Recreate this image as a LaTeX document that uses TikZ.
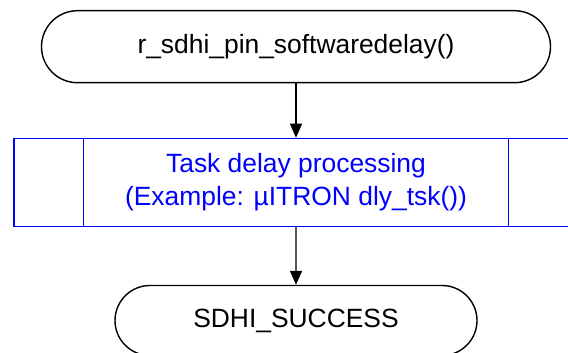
\documentclass[tikz,border=0pt]{standalone}
\usepackage{fontspec}
\setmainfont{Liberation Sans}
\usetikzlibrary{arrows.meta,positioning,shapes.misc}

\begin{document}
\begin{tikzpicture}[x=1pt,y=1pt,>={Triangle[length=14pt,width=12pt]},semithick,
    font=\fontsize{26.4}{32.5}\selectfont]
          \tikzset{terminal/.style={rounded rectangle,draw=black,line width=1.4pt,inner sep=0pt},
                   procbox/.style={rectangle,draw=blue,text=blue,line width=1.4pt,inner sep=0pt,align=center},
                   flow/.style={->,line width=1.4pt}}
          \useasboundingbox (0,0) rectangle (568,-353);
          \node[terminal,minimum width=509pt,minimum height=72pt] (start) at (296,-46.7) {r\_sdhi\_pin\_softwaredelay()};
          \node[procbox,minimum width=564pt,minimum height=88pt]  (delay) [below=54.3pt of start]
                {Task delay processing\\(Example: µITRON dly\_tsk())};
          \node[terminal,minimum width=362pt,minimum height=70pt] (done)  [below=57.7pt of delay] {SDHI\_SUCCESS};

          % side bars of the predefined process
          \draw[blue,line width=1.4pt] ([xshift=70pt]delay.north west) -- ([xshift=70pt]delay.south west)
                                       ([xshift=-70pt]delay.north east) -- ([xshift=-70pt]delay.south east);

          \draw[flow] (start) -- (delay);
          \draw[flow] (delay) -- (done);
\end{tikzpicture}
\end{document}
